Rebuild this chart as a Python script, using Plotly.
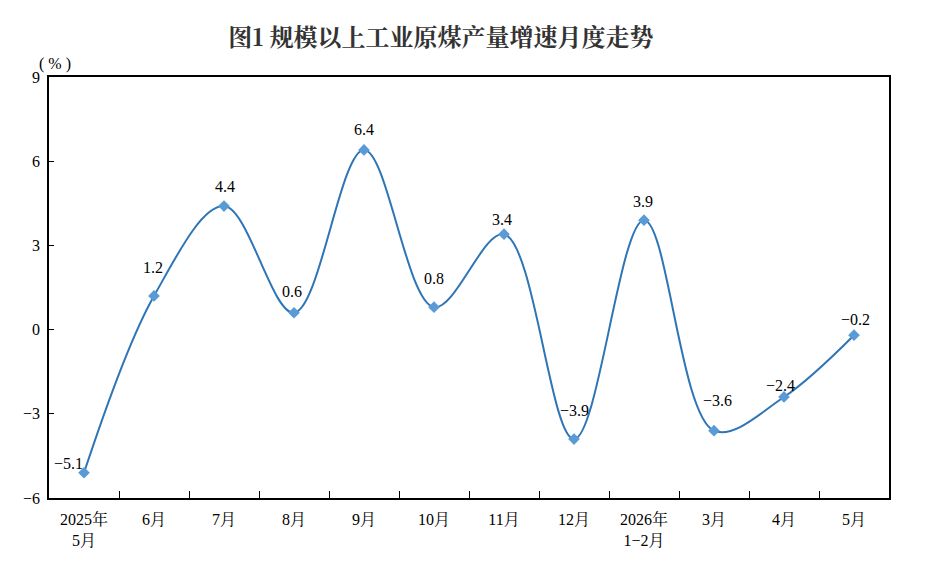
import plotly.graph_objects as go

categories = ["2025年<br>5月", "6月", "7月", "8月", "9月", "10月", "11月", "12月",
              "2026年<br>1−2月", "3月", "4月", "5月"]
values = [-5.1, 1.2, 4.4, 0.6, 6.4, 0.8, 3.4, -3.9, 3.9, -3.6, -2.4, -0.2]
labels = ["−5.1", "1.2", "4.4", "0.6", "6.4", "0.8", "3.4", "−3.9", "3.9", "−3.6", "−2.4", "−0.2"]
y_ticks = [-6, -3, 0, 3, 6, 9]
y_tick_text = ["−6", "−3", "0", "3", "6", "9"]

# label offsets in pixels (style only)
label_dx = [-16, -1, 1, -2, 0, 0, -2, 0, -1, 3, -4, 1]
label_dy = [9, 28, 20, 21, 20, 29, 15, 29, 19, 30, 11, 16]

FONT = "Liberation Serif, Noto Serif CJK SC, Noto Sans CJK SC, serif"

fig = go.Figure()
fig.add_trace(go.Scatter(
    x=categories, y=values,
    mode="lines+markers",
    line=dict(color="#2E75B6", width=2, shape="spline", smoothing=1.0),
    marker=dict(symbol="diamond", size=9, color="#5B9BD5"),
    cliponaxis=False,
    showlegend=False,
))

annotations = []
for c, v, t, dx, dy in zip(categories, values, labels, label_dx, label_dy):
    annotations.append(dict(x=c, y=v, text=t, showarrow=False, xshift=dx, yshift=dy,
                            xanchor="center", yanchor="middle",
                            font=dict(family=FONT, size=16, color="#000000")))
annotations.append(dict(text="( % )", xref="paper", yref="paper", x=-0.014, y=1.0,
                        xanchor="left", yanchor="bottom", yshift=2, showarrow=False,
                        font=dict(family=FONT, size=16)))

fig.update_layout(
    width=923, height=553,
    margin=dict(l=41, r=42, t=69, b=63, autoexpand=False),
    paper_bgcolor="white", plot_bgcolor="white",
    font=dict(family=FONT, size=16, color="#000000"),
    title=dict(text="<b>图1 规模以上工业原煤产量增速月度走势</b>",
               x=0.469, xanchor="center", y=0.946, yanchor="middle",
               font=dict(family="Noto Serif CJK SC, Noto Sans CJK SC", size=24, color="#333333")),
    xaxis=dict(
        type="category", showline=True, linecolor="black", linewidth=1.5, mirror=True,
        ticks="inside", ticklen=7, tickcolor="black", tickson="boundaries",
        showgrid=False, tickfont=dict(family=FONT, size=16),
        range=[-0.5, 11.5], automargin=False, ticklabelstandoff=6,
    ),
    yaxis=dict(
        range=[-6, 9], tickvals=y_ticks, ticktext=y_tick_text,
        showline=True, linecolor="black", linewidth=1.5, mirror=True,
        ticks="inside", ticklen=5, tickcolor="black",
        showgrid=False, zeroline=False, tickfont=dict(family=FONT, size=16),
        automargin=False, ticklabelstandoff=4,
    ),
    annotations=annotations,
)

fig.write_html("out.html")
